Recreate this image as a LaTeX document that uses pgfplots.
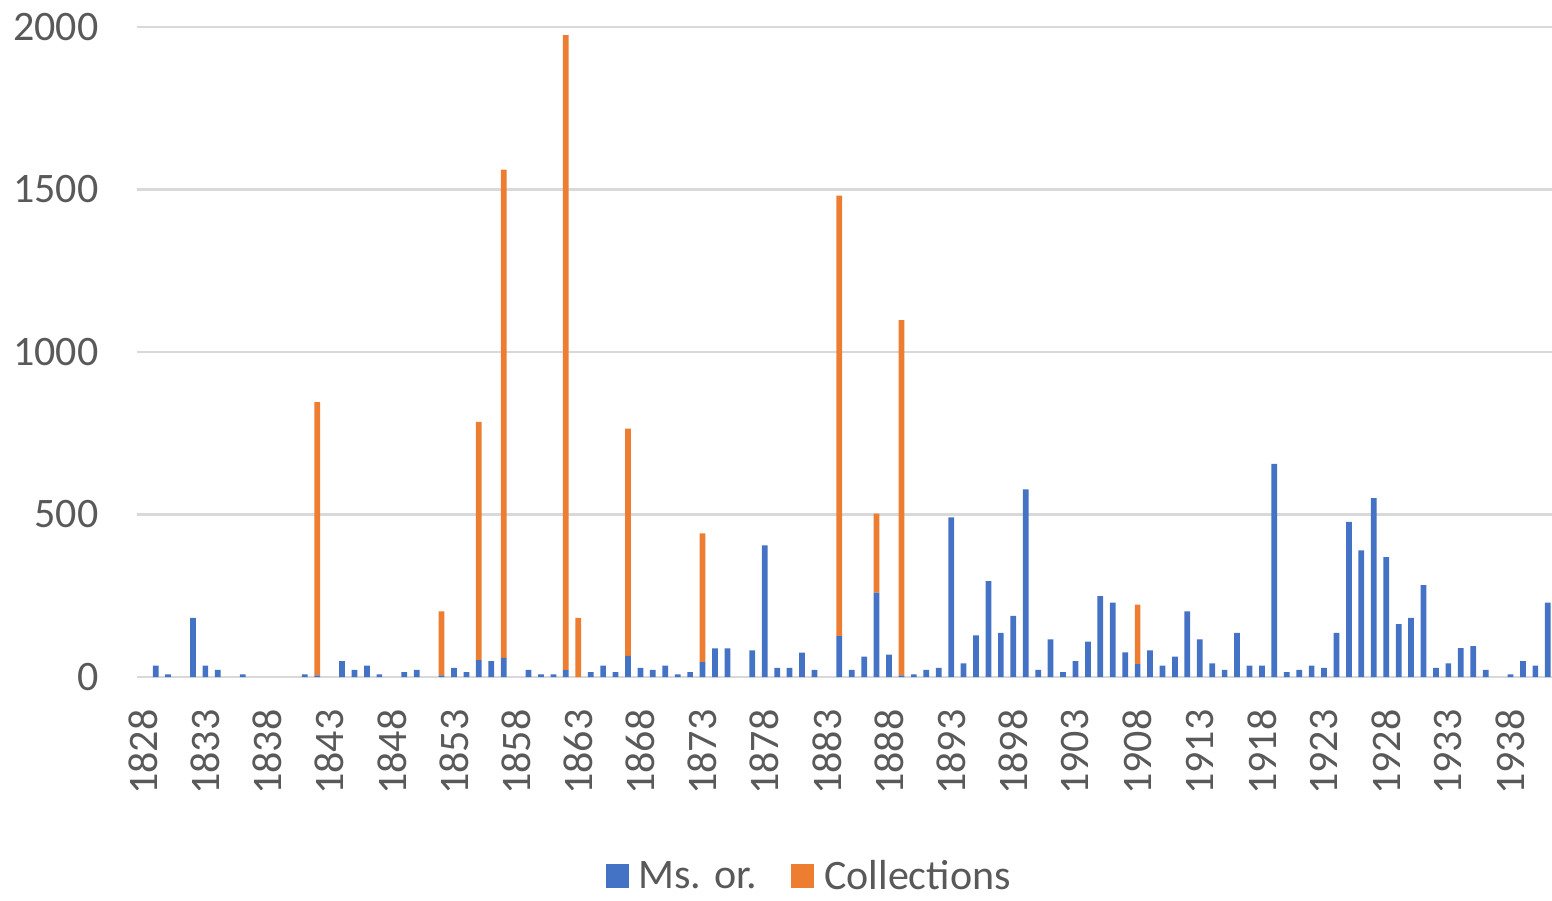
\documentclass[border=0pt]{standalone}
\usepackage{pgfplots}
\usepackage{pgfplotstable}
\pgfplotsset{compat=1.18}
\usepackage{fontspec}
\setmainfont{Carlito}
\definecolor{msblue}{HTML}{4472C4}
\definecolor{colorange}{HTML}{ED7D31}
\definecolor{gridgray}{HTML}{D9D9D9}
\definecolor{labgray}{HTML}{595959}
\pgfplotsset{sqleg/.style={legend image code/.code={\fill[##1] (0pt,-12pt) rectangle (23pt,12pt);}}}

% year, Ms. or., Collections
\pgfplotstableread{
year ms coll
1828 0 0
1829 35 0
1830 8 0
1831 0 0
1832 182 0
1833 35 0
1834 22 0
1835 0 0
1836 8 0
1837 0 0
1838 0 0
1839 0 0
1840 0 0
1841 8 0
1842 5 841
1843 0 0
1844 49 0
1845 22 0
1846 35 0
1847 8 0
1848 0 0
1849 15 0
1850 22 0
1851 0 0
1852 5 197
1853 28 0
1854 15 0
1855 52 733
1856 49 0
1857 59 1502
1858 0 0
1859 22 0
1860 8 0
1861 8 0
1862 21 1954
1863 0 182
1864 15 0
1865 35 0
1866 15 0
1867 65 699
1868 28 0
1869 22 0
1870 35 0
1871 8 0
1872 15 0
1873 46 396
1874 88 0
1875 88 0
1876 0 0
1877 82 0
1878 405 0
1879 28 0
1880 28 0
1881 75 0
1882 22 0
1883 0 0
1884 126 1355
1885 22 0
1886 63 0
1887 260 243
1888 69 0
1889 5 1093
1890 8 0
1891 22 0
1892 28 0
1893 491 0
1894 42 0
1895 128 0
1896 295 0
1897 136 0
1898 188 0
1899 577 0
1900 22 0
1901 116 0
1902 15 0
1903 49 0
1904 109 0
1905 249 0
1906 229 0
1907 76 0
1908 40 183
1909 82 0
1910 35 0
1911 63 0
1912 202 0
1913 116 0
1914 42 0
1915 22 0
1916 136 0
1917 35 0
1918 35 0
1919 656 0
1920 15 0
1921 22 0
1922 35 0
1923 28 0
1924 136 0
1925 477 0
1926 390 0
1927 550 0
1928 369 0
1929 163 0
1930 182 0
1931 283 0
1932 28 0
1933 42 0
1934 89 0
1935 95 0
1936 22 0
1937 0 0
1938 8 0
1939 49 0
1940 35 0
1941 229 0
}\data

\begin{document}
\begin{tikzpicture}
\useasboundingbox (0,0) rectangle (1552pt,900pt);
\begin{axis}[
  at={(137pt,223pt)}, anchor=south west,
  width=1417pt, height=650pt, scale only axis,
  ybar stacked, bar width=0.46,
  xmin=1827.5, xmax=1941.5, ymin=0, ymax=2000,
  xtick={1828,1833,...,1938},
  ytick={0,500,...,2000},
  ymajorgrids, grid style={gridgray, line width=2.5pt},
  axis line style={draw=none}, major tick length=0pt,
  ticklabel style={font=\fontsize{42}{50}\selectfont, text=labgray},
  /pgf/number format/assume math mode=true,
  /pgf/number format/1000 sep={},
  y tick label style={xshift=-35pt},
  x tick label style={yshift=-29pt, rotate=90, anchor=east},
  legend style={at={(0.474,-0.306)}, anchor=center, draw=none,
    font=\fontsize{42}{50}\selectfont, text=labgray,
    nodes={inner sep=1pt},
    /tikz/every odd column/.append style={column sep=9pt},
    /tikz/every even column/.append style={column sep=33pt}},
  legend columns=2,
]
\addplot[fill=msblue, draw=none, sqleg] table[x=year, y=ms]{\data};
\addplot[fill=colorange, draw=none, sqleg] table[x=year, y=coll]{\data};
\legend{Ms. or., Collections}
\end{axis}
\end{tikzpicture}
\end{document}
